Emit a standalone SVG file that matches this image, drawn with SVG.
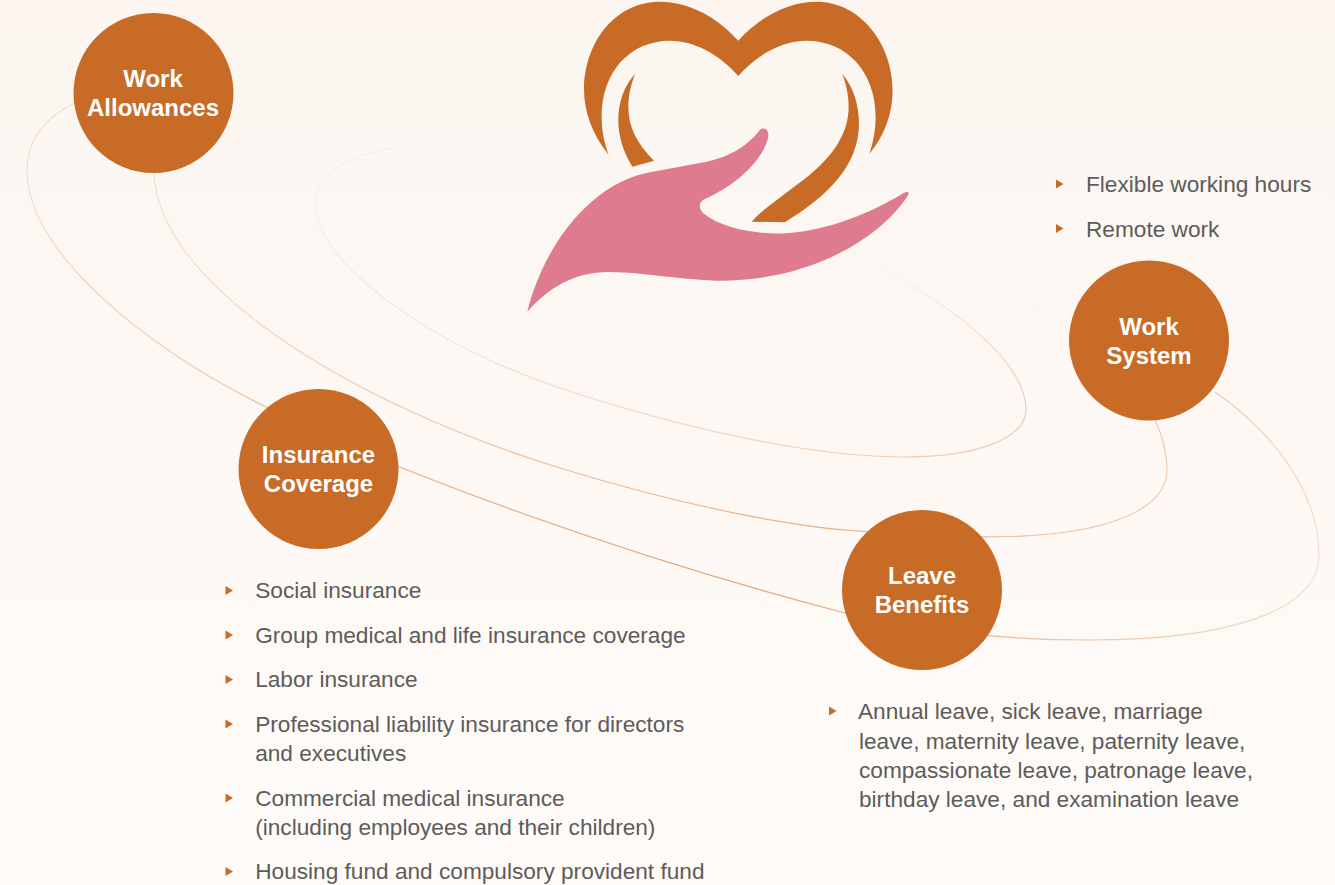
<svg xmlns="http://www.w3.org/2000/svg" width="1335" height="885" viewBox="0 0 1335 885">
<style>
.c{fill:#C86B27}
.t{font-family:"Liberation Sans",Arial,sans-serif;font-weight:700;font-size:24px;fill:#fff;text-anchor:middle}
.l{font-family:"Liberation Sans",Arial,sans-serif;font-size:22.65px;fill:#5c5c5c}
.b{fill:#C86B27}
.w{fill:none;stroke-width:1.2}
</style>
<defs>
<linearGradient id="bg" x1="0" y1="0" x2="0" y2="1"><stop offset="0" stop-color="#FDF5F0"/><stop offset=".06" stop-color="#FBF6F0"/><stop offset=".5" stop-color="#FDF8F4"/><stop offset="1" stop-color="#FFFBF8"/></linearGradient>
<linearGradient id="ga" gradientUnits="userSpaceOnUse" x1="30" y1="100" x2="1320" y2="640"><stop offset="0" stop-color="#F3DFCE"/><stop offset=".25" stop-color="#EDBE9C"/><stop offset=".55" stop-color="#E59A68"/><stop offset=".8" stop-color="#EDBE9C"/><stop offset="1" stop-color="#F3E2D2"/></linearGradient>
<linearGradient id="gb" gradientUnits="userSpaceOnUse" x1="150" y1="170" x2="1170" y2="540"><stop offset="0" stop-color="#F3DFCE"/><stop offset=".7" stop-color="#E9AE86"/><stop offset="1" stop-color="#EFCDB5"/></linearGradient>
<linearGradient id="gc" gradientUnits="userSpaceOnUse" x1="315" y1="150" x2="1030" y2="460"><stop offset="0" stop-color="#FAF0E7"/><stop offset=".2" stop-color="#F5E3D4"/><stop offset=".7" stop-color="#F0CDB2"/><stop offset="1" stop-color="#EFCDB5"/></linearGradient>
<linearGradient id="gd" gradientUnits="userSpaceOnUse" x1="880" y1="265" x2="1026" y2="400"><stop offset="0" stop-color="#FBF5EF"/><stop offset="1" stop-color="#EFCDB5"/></linearGradient>
</defs>
<rect width="1335" height="885" fill="url(#bg)"/>
<g id="connectors">
<path class="w" stroke="url(#ga)" d="M75 103C40 120 27 145 27 170C27 250 140 345 268 408C400 475 640 560 845 613C920 632 1010 640 1090 640C1230 640 1319 610 1319 555C1319 490 1270 430 1215 392"/>
<path class="w" stroke="url(#gb)" d="M154 172C156 280 340 400 560 468C680 505 800 530 880 532C950 538 1010 538 1050 534C1120 527 1167 505 1167 470C1167 450 1162 435 1155 420"/>
<path class="w" stroke="url(#gc)" d="M395 148C345 155 315 175 315 203C315 260 420 340 560 388C680 428 810 457 905 457C980 457 1026 437 1026 410"/>
<path class="w" stroke="url(#gd)" d="M1026 410C1026 360 950 305 873 263"/>
<path class="w" stroke="#FBF4ED" d="M1023 300L1070 332"/>
</g>
<g id="logo" transform="translate(510 0) scale(.3333)">
<path class="c" d="M296 465C245 400 222 335 222 265C225 120 320 5 450 5C540 5 625 55 685 122C745 55 830 5 920 5C1050 5 1148 130 1148 270C1148 340 1125 405 1078 462C1090 425 1097 390 1097 350C1097 215 1010 122 890 122C815 122 740 165 685 228C630 165 555 122 480 122C360 122 275 215 275 350C275 390 282 425 296 465Z"/>
<path class="c" d="M375 222C340 260 325 310 325 360C325 410 340 455 367 500L432 482C380 430 355 380 355 320C355 285 363 255 375 222Z"/>
<path class="c" d="M997 222C1030 260 1047 315 1047 370C1047 500 950 590 825 667L725 665C745 640 800 600 880 540C970 470 1016 400 1016 320C1016 285 1009 255 997 222Z"/>
<path fill="#DF7B8E" d="M52 935C100 740 240 550 420 517L590 485C660 470 710 440 750 390C765 378 778 392 775 410C760 480 680 555 585 597C565 605 565 625 580 640C640 690 760 705 830 700C960 690 1080 640 1180 580C1190 574 1197 572 1195 585C1100 730 880 845 620 842C480 835 400 818 300 816C190 815 115 865 52 935Z"/>
</g>
<g id="work-allowances">
<circle class="c" cx="153.500" cy="93" r="80"/>
<text class="t" x="153" y="87">Work</text>
<text class="t" x="153" y="116">Allowances</text>
</g>
<g id="insurance-coverage">
<circle class="c" cx="318.500" cy="469" r="80"/>
<text class="t" x="318.500" y="463">Insurance</text>
<text class="t" x="318.500" y="492">Coverage</text>
</g>
<g id="work-system">
<circle class="c" cx="1149" cy="340.500" r="80"/>
<text class="t" x="1149" y="335">Work</text>
<text class="t" x="1149" y="364">System</text>
</g>
<g id="leave-benefits">
<circle class="c" cx="922" cy="590" r="80"/>
<text class="t" x="922" y="584">Leave</text>
<text class="t" x="922" y="613">Benefits</text>
</g>
<g id="work-system-list">
<path class="b" d="M1056 179.500L1063.500 184L1056 188.500Z"/>
<text class="l" x="1086" y="192">Flexible working hours</text>
<path class="b" d="M1056 224L1063.500 228.500L1056 233Z"/>
<text class="l" x="1086" y="237">Remote work</text>
</g>
<g id="insurance-list">
<path class="b" d="M225.500 586L233 590.500L225.500 595Z"/>
<text class="l" x="255.200" y="598">Social insurance</text>
<path class="b" d="M225.500 630.500L233 635L225.500 639.500Z"/>
<text class="l" x="255.200" y="643">Group medical and life insurance coverage</text>
<path class="b" d="M225.500 675L233 679.500L225.500 684Z"/>
<text class="l" x="255.200" y="687">Labor insurance</text>
<path class="b" d="M225.500 719.500L233 724L225.500 728.500Z"/>
<text class="l" x="255.200" y="732">Professional liability insurance for directors</text>
<text class="l" x="255.200" y="761">and executives</text>
<path class="b" d="M225.500 793.500L233 798L225.500 802.500Z"/>
<text class="l" x="255.200" y="806">Commercial medical insurance</text>
<text class="l" x="255.200" y="835">(including employees and their children)</text>
<path class="b" d="M225.500 867L233 871.500L225.500 876Z"/>
<text class="l" x="255.200" y="879">Housing fund and compulsory provident fund</text>
</g>
<g id="leave-list">
<path class="b" d="M829 706.500L836.500 711L829 715.500Z"/>
<text class="l" x="858" y="719">Annual leave, sick leave, marriage</text>
<text class="l" x="859" y="749">leave, maternity leave, paternity leave,</text>
<text class="l" x="859" y="778">compassionate leave, patronage leave,</text>
<text class="l" x="859" y="807">birthday leave, and examination leave</text>
</g>
</svg>
